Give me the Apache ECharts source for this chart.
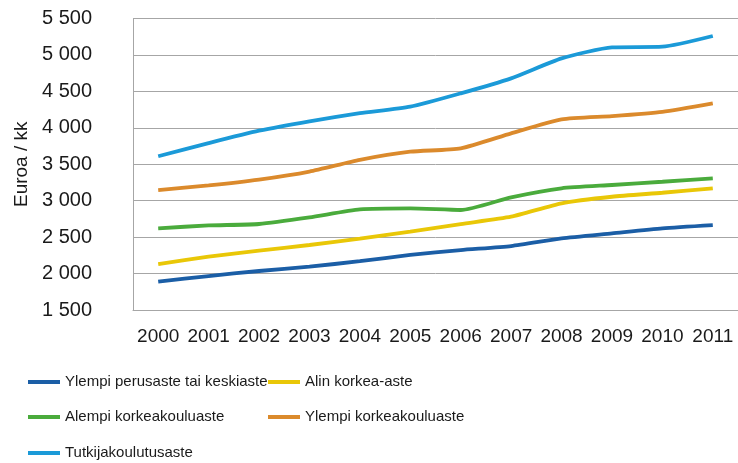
<!DOCTYPE html>
<html>
<head>
<meta charset="utf-8">
<script src="https://cdn.jsdelivr.net/npm/echarts@6/dist/echarts.min.js"></script>
<style>
  html, body { margin: 0; padding: 0; background: #fff; }
  #chart { width: 738px; height: 463px; }
</style>
</head>
<body>
<div id="chart"></div>
<script>
// vuodet
const years = ['2000', '2001', '2002', '2003', '2004', '2005', '2006', '2007', '2008', '2009', '2010', '2011'];

// koulutusasteet (euroa / kk)
const ylempiPerus = [1888, 1966, 2035, 2094, 2170, 2255, 2323, 2378, 2483, 2552, 2621, 2666];
const alinKorkea = [2131, 2231, 2314, 2392, 2480, 2574, 2680, 2780, 2964, 3054, 3109, 3170];
const alempiKk = [2621, 2660, 2680, 2770, 2880, 2895, 2872, 3046, 3170, 3215, 3260, 3306];
const ylempiKk = [3146, 3210, 3290, 3400, 3560, 3672, 3718, 3924, 4116, 4161, 4220, 4336];
const tutkija = [3610, 3790, 3960, 4090, 4200, 4290, 4473, 4679, 4953, 5104, 5113, 5260];

const names = [
  'Ylempi perusaste tai keskiaste',
  'Alin korkea-aste',
  'Alempi korkeakouluaste',
  'Ylempi korkeakouluaste',
  'Tutkijakoulutusaste'
];
const colors = ['#1b5ea6', '#e9c707', '#4aab3c', '#db8a2c', '#1b9ad8'];
const values = [ylempiPerus, alinKorkea, alempiKk, ylempiKk, tutkija];

// legendan paikat (vasen reuna, rivin keskikohta)
const legendLeft = [28, 268, 28, 268, 28];
const legendRowY = [382, 382, 417, 417, 453];

const chart = echarts.init(document.getElementById('chart'));

const option = {
  animation: false,
  color: colors,
  grid: {
    left: 133,
    top: 18.5,
    width: 611,
    height: 291.5
  },
  legend: names.map(function (n, i) {
    return {
      data: [n],
      left: legendLeft[i],
      top: legendRowY[i] - 10,
      padding: 0,
      icon: 'rect',
      itemWidth: 32,
      itemHeight: 4,
      itemTextGap: 2,
      selectedMode: false,
      textStyle: {
        fontFamily: '"Liberation Sans", Arial, sans-serif',
        fontSize: 15,
        lineHeight: 20,
        color: '#1a1a1a'
      }
    };
  }),
  xAxis: {
    type: 'category',
    data: years,
    boundaryGap: true,
    axisLine: { show: true, lineStyle: { color: '#a6a6a6', width: 1 } },
    axisTick: { show: false },
    axisLabel: {
      interval: 0,
      margin: 17,
      color: '#1a1a1a',
      fontSize: 19,
      fontFamily: '"Liberation Sans", Arial, sans-serif'
    }
  },
  yAxis: {
    type: 'value',
    min: 1500,
    max: 5500,
    interval: 500,
    name: 'Euroa / kk',
    nameLocation: 'middle',
    nameRotate: 90,
    nameGap: 96,
    nameTextStyle: {
      color: '#1a1a1a',
      fontSize: 19,
      fontFamily: '"Liberation Sans", Arial, sans-serif'
    },
    axisLine: { show: true, lineStyle: { color: '#a6a6a6', width: 1 } },
    axisTick: { show: false },
    axisLabel: {
      margin: 41,
      color: '#1a1a1a',
      fontSize: 20,
      fontFamily: '"Liberation Sans", Arial, sans-serif',
      formatter: function (v) {
        return String(v).replace(/\B(?=(\d{3})+(?!\d))/g, ' ');
      }
    },
    splitLine: {
      show: true,
      lineStyle: { color: '#a6a6a6', width: 1 }
    }
  },
  series: names.map(function (n, i) {
    return {
      name: n,
      type: 'line',
      data: values[i],
      symbol: 'none',
      smooth: 0.2,
      lineStyle: { color: colors[i], width: 3.8 },
      itemStyle: { color: colors[i] }
    };
  })
};

chart.setOption(option);
</script>
</body>
</html>
